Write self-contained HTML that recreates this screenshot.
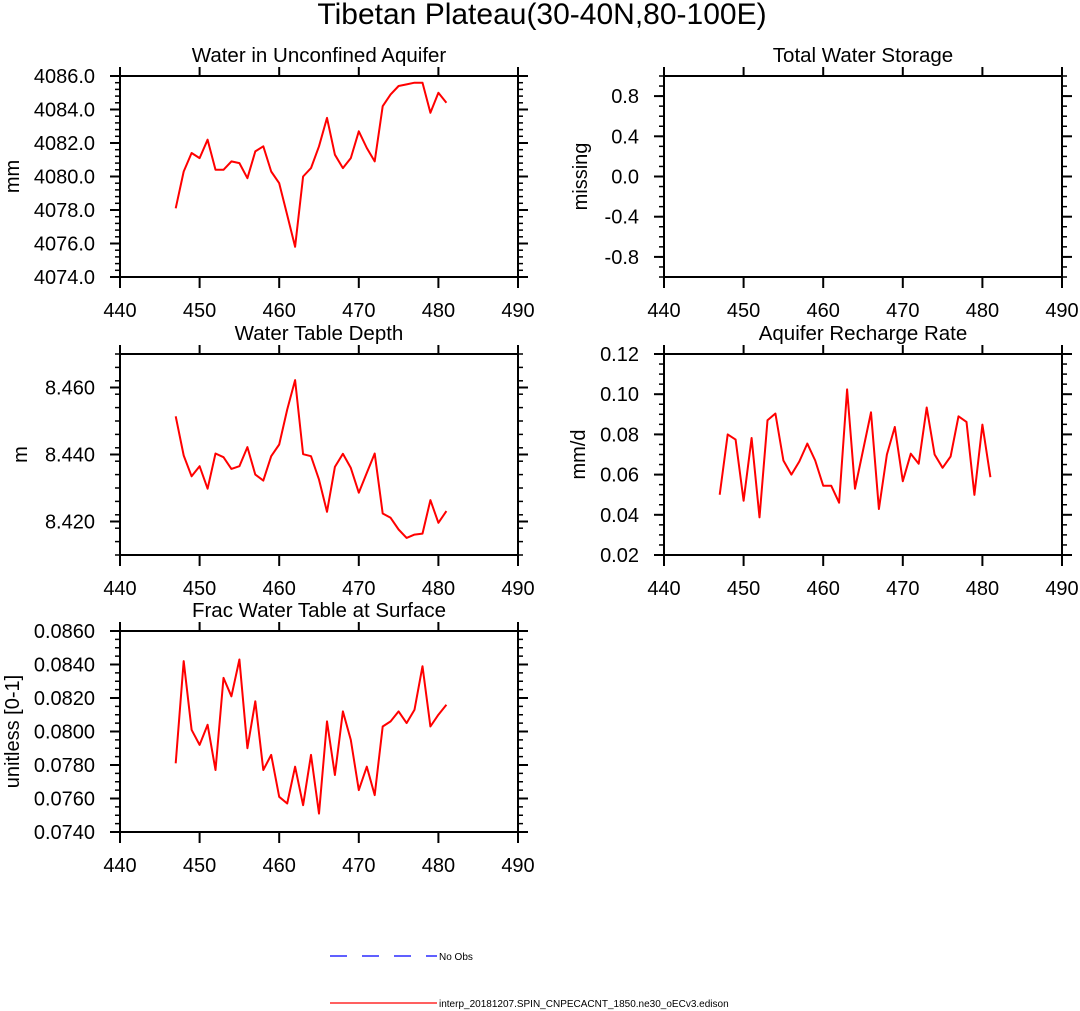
<!DOCTYPE html>
<html><head><meta charset="utf-8">
<style>
html,body{margin:0;padding:0;background:#fff;}
svg{display:block;font-family:"Liberation Sans",Arial,sans-serif;}
</style></head>
<body>
<svg id="fig" width="1080" height="1011" viewBox="0 0 1080 1011" xmlns="http://www.w3.org/2000/svg">
<text x="542" y="24" font-size="30" text-anchor="middle">Tibetan Plateau(30-40N,80-100E)</text>
<g id="plots"></g>
<g>
<line x1="330" y1="956" x2="437" y2="956" stroke="#0000ff" stroke-width="1.2" stroke-dasharray="17,15"/>
<text x="439" y="960" font-size="10">No Obs</text>
<line x1="330" y1="1003" x2="437" y2="1003" stroke="#ff0000" stroke-width="1.2"/>
<text x="439" y="1007" font-size="10">interp_20181207.SPIN_CNPECACNT_1850.ne30_oECv3.edison</text>
</g>
</svg>
<script>
const years = [447,448,449,450,451,452,453,454,455,456,457,458,459,460,461,462,463,464,465,466,467,468,469,470,471,472,473,474,475,476,477,478,479,480,481];
const aquiferWater = [4078.1,4080.3,4081.4,4081.1,4082.2,4080.4,4080.4,4080.9,4080.8,4079.9,4081.5,4081.8,4080.3,4079.6,4077.7,4075.8,4080.0,4080.5,4081.8,4083.5,4081.3,4080.5,4081.1,4082.7,4081.7,4080.9,4084.2,4084.9,4085.4,4085.5,4085.6,4085.6,4083.8,4085.0,4084.4];
const waterTableDepth = [8.4514,8.4397,8.4335,8.4365,8.4298,8.4403,8.4392,8.4357,8.4365,8.4422,8.4340,8.4322,8.4395,8.4430,8.4534,8.4622,8.4401,8.4395,8.4325,8.4229,8.4363,8.4402,8.4360,8.4286,8.4345,8.4403,8.4224,8.4211,8.4176,8.4151,8.4161,8.4164,8.4264,8.4196,8.4231];
const rechargeRate = [0.050,0.080,0.0774,0.047,0.0782,0.0387,0.087,0.0904,0.067,0.060,0.0665,0.0754,0.067,0.0545,0.0545,0.046,0.1024,0.053,0.072,0.091,0.0429,0.070,0.0837,0.0567,0.0704,0.0654,0.0934,0.070,0.0634,0.069,0.089,0.0862,0.0499,0.0849,0.0587];
const fracSurface = [0.0781,0.0842,0.0801,0.0792,0.0804,0.0777,0.0832,0.0821,0.0843,0.0790,0.0818,0.0777,0.0786,0.0761,0.0757,0.0779,0.0756,0.0786,0.0751,0.0806,0.0774,0.0812,0.0795,0.0765,0.0779,0.0762,0.0803,0.0806,0.0812,0.0805,0.0813,0.0839,0.0803,0.0810,0.0816];
const xTicks = [440,450,460,470,480,490];

const NS="http://www.w3.org/2000/svg";
const root=document.getElementById('plots');
function mk(tag,attrs,parent){const e=document.createElementNS(NS,tag);for(const k in attrs)e.setAttribute(k,attrs[k]);(parent||root).appendChild(e);return e;}

const panels=[
 {name:'aquifer-water',title:'Water in Unconfined Aquifer',x:120,y:76,ylab:'mm',ymin:4074,ymax:4086,major:2,minor:0.4,dec:1,data:aquiferWater,labx:12},
 {name:'total-water-storage',title:'Total Water Storage',x:664,y:76,ylab:'missing',ymin:-1,ymax:1,major:0.4,minor:0.1,dec:1,data:null,labx:580,tickStart:-0.8,tickEnd:0.8},
 {name:'water-table-depth',title:'Water Table Depth',x:120,y:354,ylab:'m',ymin:8.41,ymax:8.47,major:0.02,minor:0.004,dec:3,data:waterTableDepth,labx:20,tickStart:8.42,tickEnd:8.46},
 {name:'recharge-rate',title:'Aquifer Recharge Rate',x:664,y:354,ylab:'mm/d',ymin:0.02,ymax:0.12,major:0.02,minor:0.005,dec:2,data:rechargeRate,labx:578},
 {name:'frac-water-table',title:'Frac Water Table at Surface',x:120,y:631,ylab:'unitless [0-1]',ymin:0.074,ymax:0.086,major:0.002,minor:0.0005,dec:4,data:fracSurface,labx:12}
];
const W=398,H=201;
panels.forEach(p=>{
 const g=mk('g',{});
 
 
 const sx=v=>p.x+(v-440)/(490-440)*W;
 const sy=v=>p.y+H-(v-p.ymin)/(p.ymax-p.ymin)*H;
 const t=mk('text',{x:p.x+W/2,y:p.y-14,'font-size':20.5,'text-anchor':'middle'},g);
 t.textContent=p.title;
 
 
 if(p.data){
  const pts=years.map((yr,i)=>sx(yr).toFixed(1)+','+sy(p.data[i]).toFixed(1)).join(' ');
  const pl=mk('polyline',{points:pts,fill:'none',stroke:'#ff0000','stroke-width':2,'stroke-linejoin':'round'},g);
  
  
 }
 const fr=mk('rect',{x:p.x,y:p.y,width:W,height:H,fill:'none',stroke:'#000','stroke-width':2},g);
 
 
 xTicks.forEach(v=>{
  const X=sx(v);
  mk('line',{x1:X,y1:p.y+H,x2:X,y2:p.y+H+11,stroke:'#000','stroke-width':2},g);
  mk('line',{x1:X,y1:p.y,x2:X,y2:p.y-9,stroke:'#000','stroke-width':2},g);
  const tl=mk('text',{x:X,y:p.y+H+40,'font-size':20,'text-anchor':'middle'},g);
  tl.textContent=v;
  
  
 });
 const nmin=Math.round((p.ymax-p.ymin)/p.minor);
 for(let i=0;i<=nmin;i++){
  const v=p.ymin+i*p.minor, Y=sy(v);
  mk('line',{x1:p.x,y1:Y,x2:p.x-5,y2:Y,stroke:'#000','stroke-width':1.5},g);
  mk('line',{x1:p.x+W,y1:Y,x2:p.x+W+5,y2:Y,stroke:'#000','stroke-width':1.5},g);
 }
 const ts=p.tickStart!==undefined?p.tickStart:p.ymin, te=p.tickEnd!==undefined?p.tickEnd:p.ymax;
 const nmaj=Math.round((te-ts)/p.major);
 for(let i=0;i<=nmaj;i++){
  const v=ts+i*p.major, Y=sy(v);
  mk('line',{x1:p.x,y1:Y,x2:p.x-10,y2:Y,stroke:'#000','stroke-width':2},g);
  mk('line',{x1:p.x+W,y1:Y,x2:p.x+W+10,y2:Y,stroke:'#000','stroke-width':2},g);
  const yl=mk('text',{x:p.x-25,y:Y+7,'font-size':20,'text-anchor':'end'},g);
  yl.textContent=(Math.abs(v)<1e-9?0:v).toFixed(p.dec);
  
  
 }
 const al=mk('text',{x:0,y:0,'font-size':20,'text-anchor':'middle',transform:`translate(${p.labx+7},${p.y+H/2}) rotate(-90)`},g);
 al.textContent=p.ylab;
 
 
});
</script>
</body></html>
